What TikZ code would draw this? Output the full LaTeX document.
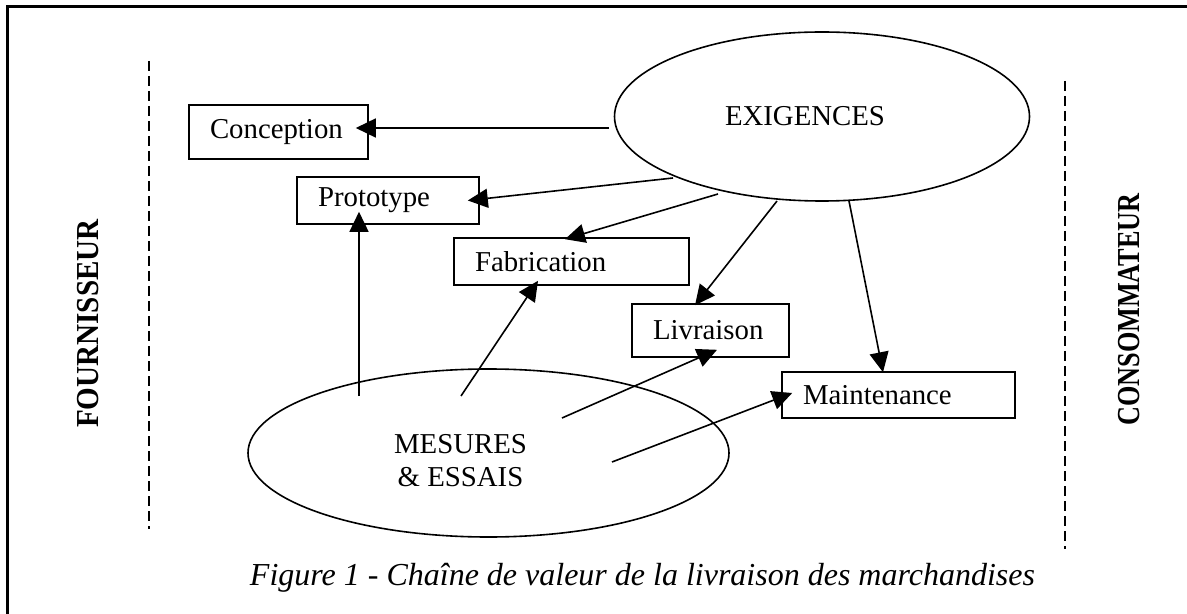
\documentclass[tikz,border=0pt]{standalone}
\usepackage{fontspec}
\setmainfont{Liberation Serif}
\usetikzlibrary{shapes.geometric,arrows.meta,calc}

\begin{document}
\begin{tikzpicture}[
    x=0.5pt, y=-0.5pt,
    font=\fontsize{14.4}{16.5}\selectfont,
    stepbox/.style={draw, line width=0.8pt, rectangle, inner xsep=10.5pt, inner ysep=0pt, align=left},
    oval/.style={draw, line width=0.8pt, ellipse, inner sep=0pt},
    arr/.style={line width=0.8pt, -{Triangle[length=10pt,width=9.5pt]}},
    side/.style={rotate=90, font=\fontsize{16}{19}\selectfont\bfseries},
    border/.style={dash pattern=on 5pt off 2.5pt, line width=0.9pt}
  ]
  \useasboundingbox (0,0) rectangle (1187,614);

  % frame (top and left edges)
  \draw[line width=1.5pt] (7,614) -- (7,7) -- (1187,7);

  % supplier / consumer limits
  \draw[border] (149,61) -- (149,529);
  \draw[border] (1065,81) -- (1065,549);
  \node[side] (four) at (88,323.5) {\scalebox{0.91}[1]{FOURNISSEUR}};
  \node[side] (cons) at (1129,309.5) {\scalebox{0.82}[1]{CONSOMMATEUR}};

  % the two ellipses
  \node[oval, minimum width=207.5pt, minimum height=84.5pt] (exig) at (822,116.5) {EXIGENCES\hspace*{17pt}};
  \node[oval, minimum width=240.5pt, minimum height=84pt,
        label={[name=meslab, align=center, xshift=-14pt, yshift=-4pt]center:MESURES\\\& ESSAIS}] (mes) at (488.5,453) {};

  % value chain steps
  \node[stepbox, text width=68.5pt, minimum height=27pt]   (conc)  at (278.5,132)   {Conception};
  \node[stepbox, text width=70pt,   minimum height=23.5pt] (proto) at (388,200.5)   {Prototype};
  \node[stepbox, text width=96.5pt, minimum height=23.5pt] (fab)   at (571.5,261.5) {Fabrication};
  \node[stepbox, text width=57.5pt, minimum height=26.5pt] (livr)  at (710.5,330.5) {Livraison};
  \node[stepbox, text width=95.5pt, minimum height=23pt]   (maint) at (898.5,395)   {Maintenance};

  % requirements feed every step
  \draw[arr] ($(exig.center)+(-213,11.5)$) -- ($(conc.east)+(-13,-4)$);
  \draw[arr] ($(exig.center)+(-149,61.5)$) -- ($(proto.east)+(-12,0)$);
  \draw[arr] ($(exig.center)+(-104,77.5)$) -- ($(fab.north)+(-6.5,2)$);
  \draw[arr] ($(exig.center)+(-45,84.5)$)  -- ($(livr.north)+(-15.5,2)$);
  \draw[arr] ($(exig.center)+(27,84.5)$)   -- ($(maint.north)+(-15.5,1)$);

  % measurements and tests check the steps
  \draw[arr] ($(mes.center)+(-129.5,-57)$) -- ($(proto.south)+(-29,-13)$);
  \draw[arr] ($(mes.center)+(-27.5,-57)$)  -- ($(fab.south)+(-33.5,-5)$);
  \draw[arr] ($(mes.center)+(73.5,-35)$)   -- ($(livr.south)+(6.5,-8)$);
  \draw[arr] ($(mes.center)+(123.5,9)$)    -- ($(maint.west)+(11,-2)$);

  % caption
  \node[font=\fontsize{16}{19}\selectfont\itshape] (cap) at (642.5,578)
    {Figure 1 - Chaîne de valeur de la livraison des marchandises};
\end{tikzpicture}
\end{document}
